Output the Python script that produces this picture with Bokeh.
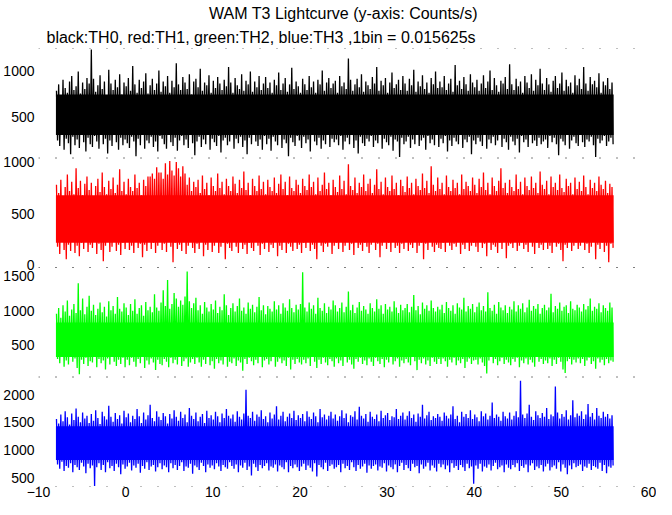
import numpy as np
from bokeh.plotting import figure
from bokeh.models import Range1d, FixedTicker, Span, Title
from bokeh.embed import file_html
from bokeh.resources import INLINE

FONT = "Liberation Sans"

title_text = "WAM T3 Lightcurve (y-axis: Counts/s)"
subtitle_text = "black:TH0, red:TH1, green:TH2, blue:TH3 ,1bin = 0.015625s"

t_start = -8.0          # start time of first (coarse) bin, s
bin_width = 0.25        # coarse bin width used to summarise the curve, s
x_limits = [-10, 60]
x_ticks = [-10, 0, 10, 20, 30, 40, 50, 60]

# per-coarse-bin maxima / minima (counts/s)
black_hi = [780, 850, 720, 900, 810, 760, 880, 940, 790, 830, 990, 750, 870, 800, 920, 860,
            1230, 910, 770, 840, 950, 800, 880, 730, 1010, 860, 790, 900, 820, 960, 740, 870,
            830, 920, 780, 1050, 850, 760, 900, 810, 880, 970, 750, 840, 910, 790, 860, 1000,
            770, 880, 830, 940, 760, 890, 820, 1080, 850, 790, 930, 870, 800, 960, 740, 880,
            910, 820, 1020, 780, 870, 840, 950, 760, 890, 810, 930, 860, 790, 900, 830, 1040,
            870, 760, 920, 840, 800, 960, 780, 890, 850, 990, 770, 880, 820, 940, 790, 860,
            930, 810, 870, 760, 900, 840, 980, 790, 860, 920, 770, 850, 1030, 800, 880, 830,
            760, 910, 850, 790, 940, 820, 880, 760, 900, 850, 1000, 780, 870, 920, 810, 860,
            890, 760, 940, 830, 870, 800, 1130, 900, 780, 850, 910, 820, 960, 770, 880, 840,
            800, 930, 860, 1040, 780, 890, 840, 920, 760, 870, 980, 810, 850, 900, 790, 940,
            860, 780, 910, 840, 1010, 770, 880, 830, 950, 800, 870, 760, 920, 850, 990, 810,
            880, 820, 940, 790, 860, 910, 770, 1060, 840, 890, 800, 930, 850, 780, 960, 870,
            820, 900, 780, 860, 950, 810, 880, 1000, 790, 920, 840, 770, 890, 860, 930, 800,
            1070, 850, 790, 910, 830, 880, 760, 940, 870, 810, 960, 780, 900, 840, 1020, 860,
            790, 920, 850, 770, 890, 940, 810, 860, 980, 780, 900, 830, 870, 760, 950, 840,
            910, 800, 1040, 860, 780, 930, 850, 890, 820, 970, 760, 880, 840, 920, 800, 870]
black_lo = [240, 180, 300, 140, 260, 210, 90, 280, 190, 250, 160, 310, 220, 120, 270, 200,
            170, 290, 230, 150, 310, 200, 260, 100, 240, 180, 300, 220, 140, 270, 190, 250,
            210, 160, 280, 230, 70, 260, 190, 300, 150, 240, 210, 280, 170, 230, 120, 290,
            260, 200, 150, 310, 220, 180, 270, 130, 240, 290, 190, 250, 160, 300, 210, 80,
            230, 280, 170, 250, 200, 310, 140, 260, 220, 180, 290, 110, 240, 270, 190, 230,
            300, 150, 260, 210, 280, 170, 240, 90, 270, 200, 310, 230, 180, 250, 140, 290,
            200, 260, 130, 280, 230, 190, 300, 160, 250, 210, 70, 270, 220, 180, 290, 240,
            160, 280, 210, 250, 120, 300, 230, 190, 270, 150, 240, 200, 310, 170, 260, 220,
            250, 190, 290, 140, 230, 270, 200, 310, 160, 240, 100, 280, 210, 180, 260, 230,
            290, 170, 240, 210, 300, 150, 260, 220, 190, 280, 130, 250, 230, 60, 270, 200,
            230, 280, 160, 250, 200, 310, 180, 240, 270, 140, 290, 210, 250, 190, 300, 170,
            260, 210, 290, 120, 240, 180, 270, 230, 200, 300, 160, 250, 220, 280, 90, 240,
            200, 270, 230, 180, 300, 150, 250, 210, 280, 190, 240, 310, 170, 260, 220, 140,
            280, 230, 190, 260, 110, 290, 220, 250, 170, 300, 210, 240, 180, 270, 200, 230,
            250, 160, 290, 220, 270, 200, 80, 260, 230, 190, 300, 150, 240, 280, 210, 180,
            300, 220, 170, 250, 230, 280, 190, 60, 260, 210, 240, 290, 180, 230, 270, 200]

red_hi = [780, 700, 830, 650, 760, 880, 720, 810, 690, 940, 750, 820, 680, 790, 860, 730,
          800, 670, 770, 840, 710, 900, 760, 690, 820, 740, 850, 700, 780, 930, 720, 810,
          690, 840, 760, 720, 880, 750, 800, 680, 830, 770, 860, 860, 890, 840, 950, 900,
          900, 840, 990, 880, 1010, 920, 870, 1000, 940, 860, 960, 890, 780, 850, 720, 810,
          760, 830, 700, 870, 740, 800, 680, 850, 770, 720, 890, 750, 810, 690, 840, 770,
          720, 860, 790, 700, 830, 750, 910, 730, 800, 680, 840, 770, 720, 870, 740, 810,
          690, 830, 760, 720, 850, 700, 790, 880, 740, 810, 680, 860, 750, 720, 830, 780,
          700, 840, 770, 730, 880, 760, 810, 690, 850, 720, 780, 900, 740, 800, 680, 830,
          760, 710, 870, 740, 820, 690, 980, 770, 730, 850, 700, 800, 760, 880, 720, 790,
          840, 700, 780, 930, 740, 810, 690, 850, 760, 720, 870, 740, 800, 680, 830, 770,
          710, 860, 750, 800, 690, 840, 770, 730, 890, 750, 820, 700, 960, 780, 720, 850,
          740, 800, 690, 870, 760, 720, 830, 750, 800, 690, 880, 740, 810, 770, 720, 850,
          780, 700, 840, 760, 900, 730, 800, 690, 850, 770, 720, 820, 940, 750, 800, 700,
          830, 760, 720, 880, 740, 810, 690, 850, 770, 730, 860, 750, 800, 700, 910, 780,
          740, 820, 690, 860, 760, 800, 730, 880, 750, 710, 840, 770, 800, 690, 850, 740,
          810, 720, 870, 760, 690, 830, 750, 800, 720, 860, 780, 740, 820, 700, 790, 760]
red_lo = [180, 110, 230, 150, 60, 200, 140, 250, 120, 190, 90, 220, 160, 240, 130, 200,
          170, 240, 110, 210, 150, 40, 190, 230, 130, 180, 250, 140, 200, 100, 220, 160,
          230, 150, 190, 120, 240, 170, 210, 80, 200, 140, 250, 160, 220, 120, 190, 240,
          150, 210, 130, 250, 180, 30, 220, 160, 200, 140, 240, 110, 190, 230, 170, 120,
          210, 160, 240, 90, 200, 150, 230, 130, 190, 250, 120, 180, 220, 60, 210, 170,
          140, 230, 180, 120, 250, 160, 200, 110, 220, 170, 140, 240, 190, 100, 210, 160,
          240, 130, 200, 170, 230, 90, 190, 150, 250, 120, 210, 180, 140, 230, 160, 200,
          120, 220, 170, 240, 140, 200, 160, 60, 230, 190, 130, 210, 180, 250, 110, 190,
          220, 160, 250, 130, 190, 230, 150, 210, 100, 240, 170, 200, 140, 220, 180, 120,
          200, 240, 150, 210, 80, 190, 230, 160, 220, 130, 250, 170, 190, 120, 210, 160,
          230, 140, 200, 170, 250, 120, 190, 220, 60, 210, 150, 240, 180, 130, 200, 170,
          160, 220, 130, 240, 190, 150, 210, 180, 230, 110, 200, 160, 250, 140, 190, 220,
          180, 130, 230, 170, 210, 90, 240, 150, 200, 180, 120, 220, 160, 240, 70, 190,
          210, 170, 240, 140, 190, 220, 160, 200, 130, 250, 180, 110, 220, 170, 200, 150,
          240, 160, 190, 120, 230, 180, 210, 150, 40, 200, 170, 230, 140, 190, 220, 160,
          190, 230, 150, 210, 120, 180, 240, 60, 200, 160, 220, 130, 190, 30, 210, 170]

green_hi = [960, 1040, 900, 1080, 990, 1150, 930, 1020, 1100, 970, 1400, 1010, 1180, 950, 1060, 1220,
            1000, 1090, 940, 1030, 1120, 980, 1060, 920, 1140, 1010, 1070, 960, 1200, 1030, 990, 1110,
            1050, 940, 1100, 1000, 1170, 960, 1040, 1080, 930, 1130, 1010, 1060, 980, 1240, 1050, 1000,
            1120, 1300, 1070, 1450, 1030, 1100, 1260, 1180, 1060, 1150, 1090, 1210, 1570, 1140, 1040, 1110,
            1190, 1010, 1080, 960, 1130, 1050, 990, 1100, 1020, 1150, 970, 1060, 1010, 1240, 1080, 940,
            1040, 1110, 990, 1070, 1180, 1000, 1050, 960, 1120, 1030, 1090, 980, 1060, 1200, 1010, 1080,
            950, 1070, 1030, 990, 1140, 1020, 1080, 960, 1110, 1050, 1000, 1170, 1040, 980, 1090, 1020,
            1100, 1560, 1050, 990, 1120, 1030, 1080, 960, 1190, 1040, 1000, 1110, 970, 1060, 1020, 1150,
            1080, 990, 1040, 1120, 980, 1060, 1280, 1010, 1090, 970, 1050, 1130, 1000, 1070, 1020, 960,
            1110, 1040, 990, 1170, 1030, 1080, 960, 1100, 1020, 1060, 990, 1140, 1050, 970, 1090, 1010,
            1040, 1100, 980, 1060, 1230, 1010, 1070, 950, 1120, 1030, 1080, 1000, 1150, 1040, 990, 1060,
            1020, 1090, 970, 1130, 1040, 1000, 1080, 960, 1110, 1050, 1020, 1190, 990, 1070, 1030, 1100,
            980, 1060, 1120, 1010, 1070, 990, 1270, 1040, 1000, 1090, 960, 1130, 1050, 1010, 1080, 970,
            1060, 1020, 1140, 990, 1080, 1030, 1110, 980, 1050, 1160, 1000, 1070, 1030, 1100, 960, 1040,
            1090, 1010, 1050, 1250, 980, 1070, 1030, 1120, 1000, 1060, 1080, 970, 1140, 1030, 1010, 1090,
            1050, 990, 1100, 1020, 1070, 1180, 1000, 1060, 1030, 1110, 980, 1080, 1040, 1000, 1120, 1050]
green_lo = [300, 240, 330, 190, 280, 220, 340, 260, 310, 170, 80, 290, 230, 320, 200, 270,
            250, 330, 180, 300, 240, 280, 150, 310, 220, 340, 260, 200, 290, 230, 320, 180,
            290, 210, 320, 260, 190, 300, 240, 330, 170, 280, 220, 310, 250, 140, 290, 230,
            210, 300, 260, 180, 320, 240, 290, 220, 330, 200, 270, 310, 190, 250, 300, 230,
            320, 250, 190, 290, 230, 340, 210, 270, 160, 300, 240, 280, 220, 330, 190, 260,
            240, 310, 200, 280, 250, 130, 300, 230, 320, 270, 210, 290, 240, 330, 180, 280,
            300, 220, 270, 330, 190, 260, 310, 240, 280, 200, 320, 150, 290, 230, 300, 250,
            220, 290, 240, 310, 200, 330, 260, 170, 290, 230, 320, 250, 210, 300, 270, 190,
            310, 240, 280, 200, 330, 250, 290, 220, 160, 300, 260, 320, 230, 280, 210, 310,
            260, 200, 320, 270, 230, 300, 180, 290, 250, 330, 220, 270, 310, 190, 280, 240,
            300, 250, 210, 330, 270, 140, 290, 240, 310, 220, 280, 200, 320, 260, 230, 300,
            230, 310, 270, 190, 290, 250, 320, 210, 280, 240, 300, 170, 260, 310, 230, 280,
            290, 220, 310, 250, 200, 90, 280, 330, 240, 300, 210, 270, 320, 230, 290, 250,
            210, 300, 260, 320, 180, 280, 240, 310, 220, 290, 250, 190, 330, 260, 300, 230,
            280, 240, 310, 200, 290, 230, 320, 260, 150, 100, 270, 300, 220, 290, 250, 310,
            240, 300, 200, 280, 320, 230, 270, 160, 310, 250, 290, 210, 300, 240, 280, 260]

blue_hi = [1560, 1480, 1640, 1520, 1700, 1590, 1460, 1660, 1540, 1750, 1600, 1500, 1680, 1570, 1620, 1490,
           1650, 1530, 1720, 1580, 1470, 1690, 1610, 1550, 1800, 1600, 1510, 1670, 1560, 1630, 1480, 1710,
           1590, 1660, 1500, 1620, 1560, 1740, 1610, 1490, 1680, 1550, 1630, 1820, 1580, 1520, 1700, 1600,
           1540, 1670, 1610, 1480, 1650, 1570, 1720, 1600, 1530, 1690, 1580, 1640, 1500, 1760, 1620, 1560,
           1680, 1520, 1600, 1650, 1490, 1710, 1580, 1630, 1550, 1690, 1610, 1500, 1660, 1580, 1740, 1620,
           1570, 1640, 1510, 1700, 1600, 1550, 1660, 2090, 1620, 1580, 1690, 1530, 1640, 1600, 1720, 1560,
           1610, 1500, 1680, 1570, 1640, 1790, 1550, 1620, 1690, 1520, 1600, 1660, 1580, 1710, 1540, 1630,
           1580, 1650, 1520, 1700, 1600, 1560, 1680, 1610, 1500, 1740, 1590, 1640, 1550, 1620, 1690, 1570,
           1640, 1530, 1610, 1720, 1580, 1660, 1500, 1630, 1600, 1700, 1550, 1780, 1620, 1570, 1650, 1510,
           1690, 1600, 1560, 1640, 1520, 1710, 1580, 1630, 1670, 1540, 1610, 1590, 1740, 1560, 1620, 1680,
           1550, 1620, 1700, 1580, 1640, 1510, 1660, 1600, 1820, 1570, 1630, 1690, 1540, 1610, 1580, 1650,
           1600, 1530, 1680, 1620, 1570, 1640, 1790, 1560, 1620, 1500, 1690, 1600, 1650, 1580, 1720, 1560,
           1640, 1590, 1520, 1700, 1610, 1660, 1550, 1620, 1860, 1580, 1640, 1600, 1530, 1690, 1610, 1570,
           1680, 1550, 1620, 1700, 1590, 2250, 1640, 1580, 1660, 1820, 1600, 1540, 1700, 1630, 1580, 1670,
           1600, 1760, 1560, 1640, 1610, 2150, 1680, 1570, 1650, 1600, 1720, 1550, 1630, 1900, 1590, 1660,
           1620, 1700, 1560, 1640, 1830, 1600, 1670, 1550, 1760, 1620, 1580, 1690, 1600, 1650, 1570, 1630]
blue_lo = [740, 660, 790, 620, 710, 680, 760, 600, 730, 690, 640, 770, 700, 580, 750, 670,
           720, 350, 690, 760, 640, 730, 600, 780, 670, 710, 620, 750, 690, 560, 740, 660,
           700, 770, 630, 720, 680, 750, 590, 710, 660, 780, 640, 700, 730, 610, 690, 760,
           650, 720, 690, 600, 760, 670, 730, 640, 710, 780, 620, 700, 680, 750, 570, 720,
           690, 640, 770, 710, 600, 740, 680, 720, 650, 760, 700, 620, 730, 690, 660, 780,
           710, 660, 740, 600, 720, 680, 770, 640, 700, 540, 750, 690, 620, 730, 670, 710,
           760, 630, 700, 680, 740, 610, 720, 690, 650, 780, 600, 710, 670, 740, 690, 620,
           700, 750, 640, 720, 680, 610, 760, 520, 730, 690, 650, 770, 620, 710, 740, 660,
           690, 730, 600, 750, 670, 710, 640, 780, 690, 620, 730, 660, 700, 750, 590, 720,
           660, 710, 740, 630, 700, 680, 760, 610, 720, 690, 650, 740, 600, 710, 770, 640,
           730, 670, 620, 750, 690, 710, 580, 740, 660, 700, 770, 630, 720, 680, 610, 750,
           690, 740, 650, 720, 600, 760, 680, 710, 640, 730, 690, 620, 750, 670, 700, 390,
           720, 660, 750, 610, 700, 680, 740, 630, 710, 770, 650, 690, 720, 600, 740, 680,
           650, 730, 690, 760, 620, 710, 680, 740, 600, 720, 760, 640, 700, 670, 730, 610,
           700, 750, 630, 690, 720, 660, 780, 610, 740, 680, 560, 720, 650, 760, 690, 710,
           740, 620, 700, 680, 750, 640, 710, 690, 660, 770, 620, 730, 580, 700, 680, 720]

# dense (solid-looking) part of each band, counts/s
black_core = [300, 740]
red_core = [220, 680]
green_core = [330, 830]
blue_core = [820, 1430]

# plotted y range of each panel, counts/s
black_range = [50, 1240]
red_range = [-20, 1040]
green_range = [40, 1630]
blue_range = [340, 2320]

black_ticks = [500, 1000]
red_ticks = [0, 500, 1000]
green_ticks = [500, 1000, 1500]
blue_ticks = [500, 1000, 1500, 2000]

panels = [
    ("th0", "#000000", black_hi, black_lo, black_core, black_range, black_ticks),
    ("th1", "#ff0000", red_hi, red_lo, red_core, red_range, red_ticks),
    ("th2", "#00ff00", green_hi, green_lo, green_core, green_range, green_ticks),
    ("th3", "#0000ff", blue_hi, blue_lo, blue_core, blue_range, blue_ticks),
]

W, H = 656, 499
BL, BR = 36, 8
n_panels = len(panels)

p = figure(width=W, height=H, x_range=Range1d(*x_limits), y_range=Range1d(0, n_panels),
           output_backend="svg", toolbar_location=None, title=None,
           min_border_left=BL, min_border_right=BR, min_border_top=0, min_border_bottom=0,
           outline_line_color=None)
p.grid.visible = False
p.background_fill_color = "white"
p.border_fill_color = "white"

ytick_pos = []
ytick_labels = {}
for k, (name, color, hi, lo, core, rng, ticks) in enumerate(panels):
    s = n_panels - 1 - k
    a, b = rng
    span = b - a
    p.extra_y_ranges[name] = Range1d(a - s * span, b + (n_panels - 1 - s) * span)

    n = min(len(hi), len(lo))
    t = t_start + np.arange(n) * bin_width
    xs = np.empty(2 * n)
    ys = np.empty(2 * n)
    xs[0::2] = t + 0.25 * bin_width
    xs[1::2] = t + 0.75 * bin_width
    ys[0::2] = np.asarray(hi[:n], dtype=float)
    ys[1::2] = np.asarray(lo[:n], dtype=float)
    t_end = t_start + n * bin_width

    p.varea(x=[t_start, t_end], y1=[core[0], core[0]], y2=[core[1], core[1]],
            fill_color=color, y_range_name=name)
    p.line(xs, ys, line_color=color, line_width=1.3, y_range_name=name)

    for v in ticks:
        pos = s + (v - a) / span
        ytick_pos.append(pos)
        ytick_labels[pos] = str(v)

for yb in range(n_panels + 1):
    p.add_layout(Span(location=yb, dimension="width", line_color="black",
                      line_dash="1 16", line_width=1))

for ax in (p.xaxis[0], p.yaxis[0]):
    ax.axis_line_color = None
    ax.major_tick_line_color = None
    ax.minor_tick_line_color = None
    ax.major_tick_out = 0
    ax.major_tick_in = 0
    ax.major_label_standoff = 4
    ax.major_label_text_font = FONT
    ax.major_label_text_font_size = "14px"
    ax.major_label_text_color = "black"

p.xaxis[0].ticker = FixedTicker(ticks=x_ticks)
p.xaxis[0].major_label_standoff = 0
p.yaxis[0].ticker = FixedTicker(ticks=ytick_pos)
p.yaxis[0].major_label_overrides = ytick_labels

p.add_layout(Title(text=subtitle_text, align="left", standoff=6, offset=8, text_font=FONT,
                   text_font_size="16px", text_font_style="normal", text_color="black"), "above")
p.add_layout(Title(text=title_text, align="center", standoff=0, offset=5, padding=2,
                   text_font=FONT, text_font_size="16px", text_font_style="normal",
                   text_color="black"), "above")

open("out.html", "w").write(file_html(p, INLINE))
